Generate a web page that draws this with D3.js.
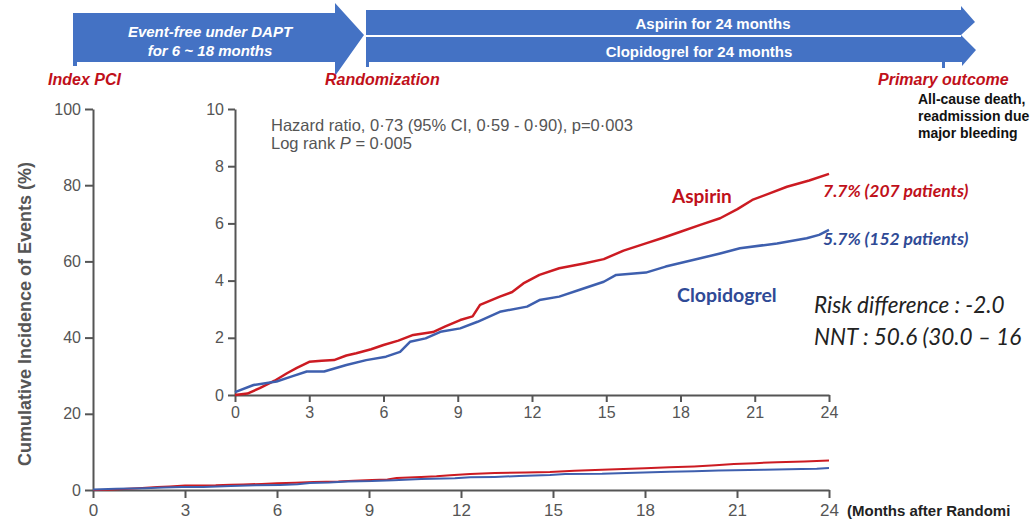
<!DOCTYPE html>
<html>
<head>
<meta charset="utf-8">
<script src="https://cdn.jsdelivr.net/npm/d3@7"></script>
<style>
    body { margin: 0; background: #fff; }
    svg { display: block; }
    .axis path, .axis line { stroke: #555; stroke-width: 2; }
    .axis text { fill: #555; font-family: "Liberation Sans", Arial, sans-serif; font-size: 16px; }
</style>
</head>
<body>
<div id="chart"></div>
<script>
// months after randomization, tick labels
var monthTicks = [0, 3, 6, 9, 12, 15, 18, 21, 24];
var mainYTicks = [0, 20, 40, 60, 80, 100];
var insetYTicks = [0, 2, 4, 6, 8, 10];

// cumulative incidence (%)
var aspirinMonths = [0, 0.5, 1.0, 1.6, 2.1, 2.5, 3.0, 3.5, 4.0, 4.5, 4.9, 5.5, 6.0, 6.6, 7.2, 8.0, 8.5, 9.1, 9.6, 9.9, 10.7, 11.2, 11.65, 12.3, 13.1, 14.1, 14.9, 15.7, 16.6, 17.3, 18.0, 18.8, 19.6, 20.3, 20.9, 21.6, 22.3, 23.2, 24.0];
var aspirinPct = [0, 0.05, 0.24, 0.5, 0.76, 0.95, 1.16, 1.2, 1.22, 1.38, 1.46, 1.6, 1.75, 1.9, 2.1, 2.2, 2.4, 2.62, 2.75, 3.15, 3.44, 3.6, 3.9, 4.2, 4.43, 4.6, 4.75, 5.05, 5.3, 5.5, 5.71, 5.95, 6.18, 6.5, 6.82, 7.05, 7.28, 7.5, 7.73];
var clopidogrelMonths = [0, 0.75, 1.68, 2.3, 2.9, 3.6, 4.5, 5.3, 6.1, 6.67, 7.07, 7.7, 8.3, 9.1, 9.8, 10.7, 11.8, 12.3, 13.1, 13.9, 14.9, 15.4, 16.6, 17.4, 18.8, 19.6, 20.4, 21.9, 23.1, 23.6, 24.0];
var clopidogrelPct = [0.1, 0.35, 0.47, 0.65, 0.82, 0.82, 1.05, 1.22, 1.34, 1.51, 1.86, 1.98, 2.21, 2.33, 2.56, 2.91, 3.09, 3.32, 3.44, 3.67, 3.96, 4.2, 4.28, 4.49, 4.78, 4.95, 5.13, 5.3, 5.48, 5.6, 5.77];

var series = [
    { name: "Aspirin", color: "#cc1b22", months: aspirinMonths, pct: aspirinPct },
    { name: "Clopidogrel", color: "#3e5fae", months: clopidogrelMonths, pct: clopidogrelPct }
];

var width = 1030, height = 526;
var svg = d3.select("#chart").append("svg")
    .attr("width", width)
    .attr("height", height);

//---- timeline arrows on top
var arrowBlue = "#4472c4";
var header = svg.append("g");
header.append("polygon")
    .attr("points", "73,13 335,13 335,3 364,35 335,76 335,62 73,62")
    .attr("fill", arrowBlue);
header.append("rect").attr("x", 73).attr("y", 60).attr("width", 4).attr("height", 6).attr("fill", arrowBlue);
header.append("polygon")
    .attr("points", "366,10 961,10 961,6 975,22 961,35 366,35")
    .attr("fill", arrowBlue);
header.append("polygon")
    .attr("points", "366,37 961,37 961,35 976,50 962,66 962,62 366,62")
    .attr("fill", arrowBlue);
header.append("rect").attr("x", 366).attr("y", 60).attr("width", 3).attr("height", 7).attr("fill", arrowBlue);
header.append("rect").attr("x", 942).attr("y", 60).attr("width", 3).attr("height", 8).attr("fill", arrowBlue);

var whiteText = [
    { t: "Event-free under DAPT", x: 210, y: 37, it: true },
    { t: "for 6 ~ 18 months", x: 210, y: 56, it: true },
    { t: "Aspirin for 24 months", x: 713, y: 29, it: false },
    { t: "Clopidogrel for 24 months", x: 699, y: 57, it: false }
];
header.selectAll("text.white").data(whiteText).enter()
    .append("text")
    .attr("x", function (d) { return d.x; })
    .attr("y", function (d) { return d.y; })
    .attr("text-anchor", "middle")
    .attr("fill", "#fff")
    .style("font-family", "Liberation Sans, Arial, sans-serif")
    .style("font-size", "15px")
    .style("font-weight", "bold")
    .style("font-style", function (d) { return d.it ? "italic" : "normal"; })
    .text(function (d) { return d.t; });

var redText = [
    { t: "Index PCI", x: 48 },
    { t: "Randomization", x: 325 },
    { t: "Primary outcome", x: 878 }
];
header.selectAll("text.red").data(redText).enter()
    .append("text")
    .attr("x", function (d) { return d.x; })
    .attr("y", 85)
    .attr("fill", "#c0101a")
    .style("font-family", "Liberation Sans, Arial, sans-serif")
    .style("font-size", "16px")
    .style("font-weight", "bold")
    .style("font-style", "italic")
    .text(function (d) { return d.t; });

var outcomeLines = ["All-cause death,", "readmission due", "major bleeding"];
header.selectAll("text.outcome").data(outcomeLines).enter()
    .append("text")
    .attr("x", 918)
    .attr("y", function (d, i) { return 104 + 17 * i; })
    .attr("fill", "#111")
    .style("font-family", "Liberation Sans, Arial, sans-serif")
    .style("font-size", "14px")
    .style("font-weight", "bold")
    .text(function (d) { return d; });

//---- main chart 0-100%
var x = d3.scaleLinear().domain([0, 24]).range([93, 829]);
var y = d3.scaleLinear().domain([0, 100]).range([490, 109]);

svg.append("g")
    .attr("class", "axis")
    .attr("transform", "translate(0,490)")
    .call(d3.axisBottom(x).tickValues(monthTicks).tickSize(8).tickPadding(6).tickSizeOuter(0))
    .selectAll("text")
    .style("font-size", "17px");

svg.append("g")
    .attr("class", "axis")
    .attr("transform", "translate(93,0)")
    .call(d3.axisLeft(y).tickValues(mainYTicks).tickSize(8).tickPadding(4).tickSizeOuter(0));

svg.append("text")
    .attr("transform", "translate(31,314) rotate(-90)")
    .attr("text-anchor", "middle")
    .attr("fill", "#555")
    .style("font-family", "Liberation Sans, Arial, sans-serif")
    .style("font-size", "18px")
    .style("font-weight", "bold")
    .text("Cumulative Incidence of Events (%)");

svg.append("text")
    .attr("x", 847)
    .attr("y", 516)
    .attr("fill", "#222")
    .style("font-family", "Liberation Sans, Arial, sans-serif")
    .style("font-size", "15px")
    .style("font-weight", "bold")
    .text("(Months after Randomi");

var mainLine = d3.line()
    .x(function (d) { return x(d[0]); })
    .y(function (d) { return y(d[1]); });

svg.selectAll("path.main").data(series).enter()
    .append("path")
    .attr("fill", "none")
    .attr("stroke", function (d) { return d.color; })
    .attr("stroke-width", 2)
    .attr("d", function (d) {
        return mainLine(d.months.map(function (m, i) { return [m, d.pct[i]]; }));
    });

//---- inset 0-10%
var xi = d3.scaleLinear().domain([0, 24]).range([235, 829]);
var yi = d3.scaleLinear().domain([0, 10]).range([395, 109]);

svg.append("g")
    .attr("class", "axis")
    .attr("transform", "translate(0,395)")
    .call(d3.axisBottom(xi).tickValues(monthTicks).tickSize(7).tickPadding(5).tickSizeOuter(0));

svg.append("g")
    .attr("class", "axis")
    .attr("transform", "translate(235,0)")
    .call(d3.axisLeft(yi).tickValues(insetYTicks).tickSize(7).tickPadding(4).tickSizeOuter(0));

var insetLine = d3.line()
    .x(function (d) { return xi(d[0]); })
    .y(function (d) { return yi(d[1]); });

svg.selectAll("path.inset").data(series).enter()
    .append("path")
    .attr("fill", "none")
    .attr("stroke", function (d) { return d.color; })
    .attr("stroke-width", 2.5)
    .attr("stroke-linejoin", "round")
    .attr("d", function (d) {
        return insetLine(d.months.map(function (m, i) { return [m, d.pct[i]]; }));
    });

// hazard ratio text
var hr = svg.append("g")
    .attr("fill", "#555")
    .style("font-family", "Liberation Sans, Arial, sans-serif")
    .style("font-size", "16.5px");
hr.append("text").attr("x", 271).attr("y", 131)
    .text("Hazard ratio, 0\u00b773 (95% CI, 0\u00b759 - 0\u00b790), p=0\u00b7003");
var lr = hr.append("text").attr("x", 271).attr("y", 149);
lr.append("tspan").text("Log rank ");
lr.append("tspan").style("font-style", "italic").text("P");
lr.append("tspan").text(" = 0\u00b7005");

// series labels
var labels = [
    { t: "Aspirin", x: 672, y: 203, c: "#c0101a", s: 19, it: false },
    { t: "Clopidogrel", x: 677, y: 302, c: "#2f4a96", s: 19.5, it: false },
    { t: "7.7% (207 patients)", x: 823, y: 197, c: "#c0101a", s: 17.5, it: true },
    { t: "5.7% (152 patients)", x: 823, y: 245, c: "#2f4a96", s: 17.5, it: true }
];
svg.selectAll("text.lab").data(labels).enter()
    .append("text")
    .attr("x", function (d) { return d.x; })
    .attr("y", function (d) { return d.y; })
    .attr("fill", function (d) { return d.c; })
    .style("font-family", "Lato, Open Sans, sans-serif")
    .style("font-size", function (d) { return d.s + "px"; })
    .style("font-weight", "bold")
    .style("font-style", function (d) { return d.it ? "italic" : "normal"; })
    .text(function (d) { return d.t; });

var riskLines = ["Risk difference : -2.0", "NNT : 50.6 (30.0 \u2013 16"];
svg.selectAll("text.risk").data(riskLines).enter()
    .append("text")
    .attr("x", 814)
    .attr("y", function (d, i) { return 313 + 32 * i; })
    .attr("fill", "#222")
    .style("font-family", "Lato, Open Sans, sans-serif")
    .style("font-size", "22.5px")
    .style("font-style", "italic")
    .text(function (d) { return d; });
</script>
</body>
</html>
